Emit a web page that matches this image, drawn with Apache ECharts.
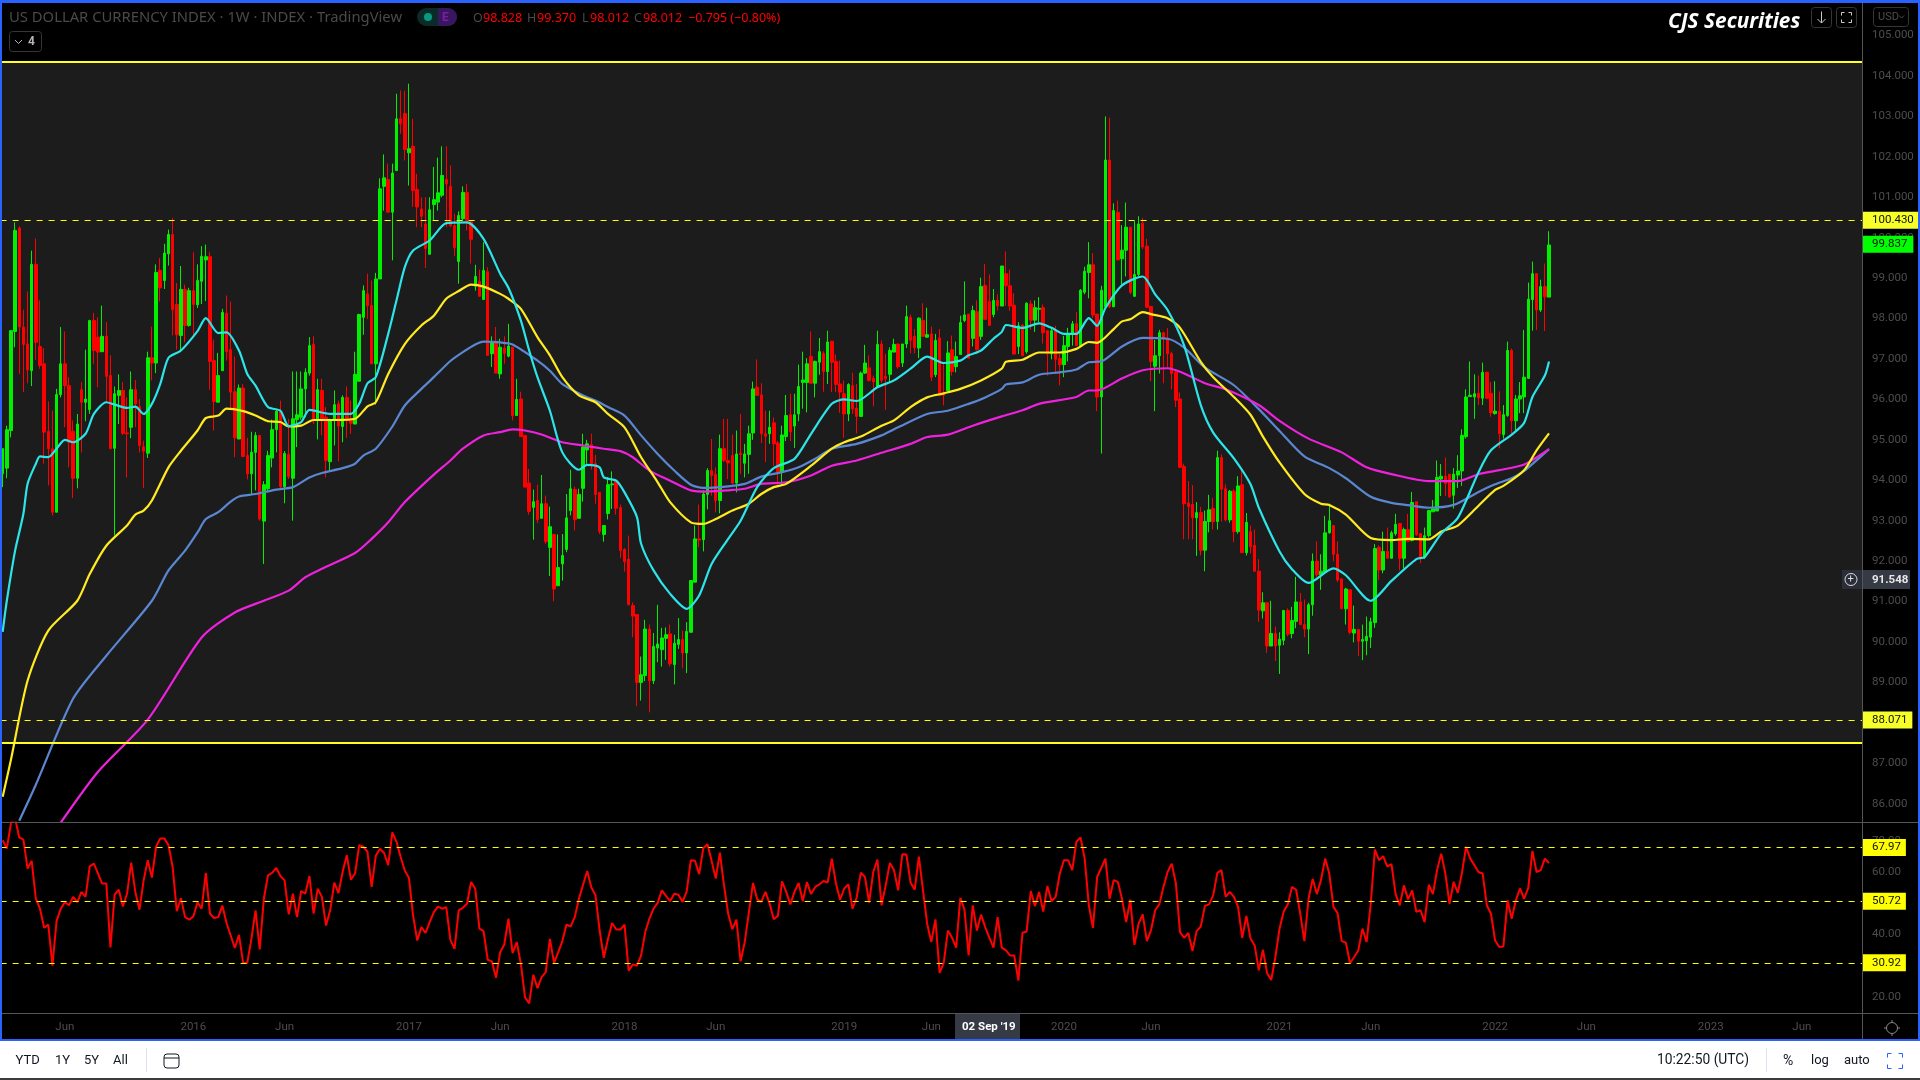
<!DOCTYPE html>
<html><head><meta charset="utf-8"><style>html,body{margin:0;padding:0;background:#000}#c{width:1920px;height:1080px}</style>
<script src="https://cdn.jsdelivr.net/npm/echarts@6/dist/echarts.min.js"></script></head><body><div id="c"></div>
<script>
// OHLC as [open, close, low, high]
const candles2015=[[94.16,94.78,93.83,94.78],[94.30,95.25,94.05,95.35],[95.23,97.70,95.06,97.72],[97.68,100.18,97.29,100.38],[100.24,97.79,96.63,100.28],[97.79,97.36,96.18,98.22],[97.37,96.73,96.40,98.67],[96.71,99.34,96.33,99.68],[99.34,97.41,96.98,99.98],[97.31,96.84,96.76,98.45],[96.88,95.19,94.41,97.27],[95.21,94.78,93.87,95.95],[94.78,93.21,93.13,95.72],[93.21,96.12,93.21,96.26],[96.12,96.88,96.05,97.79],[96.88,96.34,95.31,97.68],[96.34,94.94,94.32,96.55],[95.21,94.05,93.56,95.48],[94.05,95.39,93.80,95.64],[96.24,95.93,94.69,96.43],[95.93,96.01,95.46,97.23],[95.75,97.95,95.64,97.97],[97.95,97.21,96.88,98.14],[97.54,97.17,96.30,98.03],[97.18,97.56,97.17,98.32],[97.56,96.57,95.93,97.91],[96.59,94.78,94.78,97.09],[94.79,96.14,92.63,96.32],[96.10,96.22,95.39,96.62],[96.22,95.16,95.12,96.43],[95.17,95.15,94.07,96.05],[95.31,96.24,95.04,96.69],[96.24,95.89,95.31,96.48],[95.82,94.86,94.69,96.01],[94.83,94.72,93.81,94.98],[94.67,97.03,94.55,97.18],[97.03,96.90,96.47,97.80],[96.90,99.14,96.65,99.34],[99.19,98.76,98.42,99.50],[98.94,99.62,98.73,99.85],[99.60,100.08,99.31,100.20],[100.08,98.22,97.58,100.49],[98.35,97.60,97.23,98.88],[97.58,98.72,97.17,99.30],[98.72,97.83,97.41,98.84],[97.83,98.69,97.80,98.76],[98.69,98.35,97.58,99.64],[98.34,98.94,98.26,99.34],[98.92,99.54,98.36,99.79],[99.45,99.53,98.43,99.83],[99.53,96.94,96.24,99.64],[96.96,95.95,95.23,97.48],[95.93,96.59,95.93,97.15],[96.71,98.15,96.71,98.24],[98.13,97.18,96.96,98.57],[97.23,96.18,95.77,98.42],[96.19,95.05,94.57,97.06],[95.02,96.28,95.02,96.37],[96.28,94.59,94.57,96.38],[94.61,94.16,94.02,95.05],[94.16,94.69,93.66,95.20],[94.69,95.11,93.75,95.19],[95.11,93.04,93.00,95.11],[92.99,93.89,91.93,93.98],[93.79,94.61,93.70,94.73],[94.55,95.25,94.32,95.50],[95.25,95.71,94.69,95.77],[95.70,93.84,93.79,95.97],[93.84,94.66,93.43,94.72],[94.64,94.09,94.03,95.52],[94.05,95.52,93.00,96.69],[95.50,95.62,94.82,96.69],[95.56,96.26,95.50,96.69],[96.26,96.67,95.56,96.77],[96.65,97.33,96.59,97.54],[97.36,95.48,95.39,97.56],[95.48,96.24,95.01,96.51],[96.22,95.48,95.11,96.51],[95.56,94.49,94.07,95.81],[94.46,95.48,94.24,95.52],[95.48,95.87,94.86,96.22],[95.89,95.34,94.47,95.97],[95.33,96.05,94.94,96.10],[96.05,95.48,95.05,96.32],[95.49,95.41,95.15,95.97],[95.39,96.62,95.39,97.18],[96.45,98.10,96.44,98.12],[98.03,98.69,97.60,98.82],[98.61,98.32,97.99,99.11],[98.32,96.88,96.88,98.94],[96.88,98.98,95.87,99.13],[98.98,101.21,98.98,101.47],[101.27,101.48,100.67,102.06],[101.44,100.63,100.63,101.83],[100.63,101.60,99.44,101.83],[101.66,102.94,101.66,103.56],[102.94,102.82,102.57,103.64],[103.07,102.18,101.91,103.63],[102.10,102.20,101.29,103.81],[102.26,101.17,100.76,102.94],[101.19,100.76,100.26,101.58],[100.71,100.53,100.26,101.00],[100.34,99.73,99.25,101.00],[99.59,100.69,99.59,101.00],[100.82,100.94,100.43,101.75],[100.88,101.11,100.67,101.98],[101.05,101.54,101.00,102.26],[101.44,101.33,100.26,102.26],[101.27,100.30,100.26,101.79],[100.30,99.75,99.54,100.59],[99.41,100.55,98.86,100.65],[100.47,101.12,100.43,101.27],[101.12,100.43,100.18,101.33],[100.39,99.96,99.36,100.43],[98.80,99.04,98.69,99.33],[98.92,98.55,98.55,99.21],[98.47,99.19,98.47,99.89],[99.16,97.09,97.09,99.27],[97.13,97.43,96.80,97.56],[97.44,96.65,96.65,97.79]];
const candles2017=[[96.63,97.29,96.51,97.50],[97.27,97.14,96.88,97.56],[97.07,97.32,97.04,97.87],[97.29,95.60,95.48,97.29],[95.60,96.00,95.60,96.51],[96.01,95.08,95.08,96.19],[95.11,93.83,93.83,95.11],[93.93,93.23,93.15,94.28],[93.33,93.47,92.53,93.77],[93.50,93.03,92.94,93.89],[93.06,93.42,93.06,94.13],[93.42,92.48,92.43,93.62],[92.34,92.85,91.63,93.35],[92.66,91.31,91.01,92.67],[91.39,91.84,91.39,92.66],[91.93,92.14,91.52,92.67],[92.29,93.07,92.22,93.66],[93.25,93.79,93.13,94.26],[93.77,93.03,92.76,93.84],[93.06,93.65,93.06,93.79],[93.80,94.82,93.47,95.15],[94.75,94.90,94.41,95.00],[94.88,94.41,94.26,95.15],[94.41,93.65,93.42,94.63],[93.70,92.73,92.67,93.70],[92.66,92.88,92.48,92.88],[93.18,93.89,93.03,94.08],[93.89,93.91,93.29,94.22],[93.97,93.31,93.15,93.97],[93.32,92.26,92.07,93.40],[92.29,91.99,91.74,92.32],[92.05,90.92,90.92,92.63],[90.90,90.64,90.12,90.98],[90.68,89.00,88.41,90.69],[89.00,89.19,88.55,89.64],[89.17,90.32,89.03,90.55],[90.32,89.04,88.26,90.43],[89.04,89.89,88.96,90.22],[89.85,89.95,89.50,90.92],[89.81,90.10,89.39,90.35],[90.09,90.18,89.56,90.36],[90.20,89.46,89.39,90.43],[89.44,89.97,88.95,90.18],[89.94,90.06,89.83,90.59],[90.06,89.73,89.35,90.28],[89.73,90.26,89.23,90.49],[90.24,91.52,90.24,91.52],[91.48,92.55,91.48,92.88],[92.55,92.52,92.34,93.40],[92.53,93.66,92.24,93.75],[93.65,94.24,93.28,94.30],[94.24,94.12,93.62,95.02],[94.14,93.50,93.21,94.32],[93.50,94.78,93.18,95.13],[94.78,94.49,94.45,95.52],[94.49,94.43,94.03,95.52],[94.61,93.93,93.91,95.13],[93.93,94.65,93.70,95.23],[94.67,94.64,94.16,95.64],[94.42,94.65,94.07,94.90],[94.64,95.15,94.16,95.35],[95.17,96.26,95.00,96.44],[96.30,96.10,96.10,96.99],[96.11,95.15,94.92,96.40],[95.15,95.09,94.45,95.72],[95.15,95.31,94.90,95.72],[95.42,94.90,94.36,95.56],[94.92,94.20,93.83,94.97],[94.20,95.12,93.87,95.35],[95.08,95.60,94.97,96.11],[95.62,95.20,94.97,96.14],[95.34,95.62,94.80,96.14],[95.64,96.32,95.46,96.86],[96.42,96.48,95.77,97.18],[96.42,96.88,95.68,97.02],[97.06,96.40,96.40,97.68],[96.40,96.94,96.05,96.96],[96.92,97.18,96.61,97.52],[97.14,96.69,96.19,97.19],[96.69,97.42,96.38,97.70],[97.44,96.92,96.18,97.44],[96.94,96.37,96.18,97.11],[96.38,96.18,95.67,96.96],[96.14,95.64,95.05,96.47],[95.64,96.37,95.46,96.40],[96.34,95.77,95.64,96.66],[95.78,95.58,95.16,96.38],[95.58,96.65,95.58,96.69],[96.65,96.90,96.63,97.35],[96.78,96.47,96.44,97.09],[96.52,96.43,95.83,96.59],[96.32,97.36,96.30,97.70],[97.37,96.47,96.40,97.46],[96.57,96.52,95.74,97.13],[96.62,97.21,96.43,97.29],[97.17,97.36,97.17,97.50],[97.37,96.81,96.76,97.37],[96.90,97.37,96.80,97.37],[97.37,98.05,97.27,98.32],[98.03,97.46,97.14,98.10],[97.56,97.28,97.14,97.74],[97.27,98.01,97.02,98.03],[97.95,97.56,97.54,98.38],[97.54,97.60,97.52,98.27],[97.62,96.55,96.45,97.80],[96.61,97.46,96.55,97.62],[97.52,96.10,96.10,97.74],[96.14,96.10,95.85,96.88],[96.22,97.15,96.22,97.44],[97.23,96.69,96.59,97.58],[96.81,97.06,96.67,97.43],[97.11,97.90,97.11,98.07],[97.95,98.09,97.91,98.92],[98.11,97.02,97.02,98.11],[97.51,98.20,97.31,98.32],[98.17,97.23,97.21,98.45],[97.56,98.79,97.47,99.01],[98.82,97.98,97.98,99.35],[98.42,97.83,97.83,99.09],[98.10,98.45,98.03,98.73],[98.45,98.31,98.2,98.6]];
const candles2019=[[98.31,99.30,98.31,99.30],[99.11,98.81,98.31,99.66],[98.81,98.31,98.19,99.21],[98.33,97.12,97.12,98.63],[97.31,97.82,97.12,97.91],[97.84,97.08,97.08,97.86],[97.18,98.38,97.13,98.40],[98.36,97.96,97.72,98.45],[97.96,98.27,97.67,98.45],[98.23,98.25,97.91,98.53],[98.27,97.65,97.38,98.35],[97.70,97.13,96.59,97.70],[97.13,97.70,96.99,97.77],[97.72,96.99,96.64,97.82],[97.01,96.86,96.35,97.13],[96.86,97.33,96.55,97.57],[97.31,97.62,96.94,97.77],[97.62,97.87,97.33,97.94],[97.87,97.33,97.33,98.16],[97.33,98.70,97.33,98.73],[98.65,99.17,98.60,99.28],[99.14,99.33,98.50,99.89],[99.33,98.09,98.01,99.62],[98.11,96.06,95.71,98.11],[96.06,98.70,94.66,98.81],[98.29,101.92,98.29,103.0],[101.92,98.29,98.26,102.97],[98.29,100.67,98.29,100.85],[100.63,99.45,99.45,100.92],[99.48,99.69,98.84,100.31],[99.69,100.26,99.04,100.87],[100.26,98.65,98.60,100.26],[98.55,99.09,98.55,100.41],[99.09,100.34,99.04,100.53],[100.36,99.77,99.72,100.49],[99.79,98.28,98.26,99.97],[98.30,96.94,96.45,98.30],[96.82,97.08,95.71,97.47],[97.08,97.65,96.64,97.72],[97.65,97.50,96.40,97.67],[97.52,97.13,96.79,97.77],[97.13,96.64,96.25,97.18],[96.67,95.98,95.81,96.74],[96.01,94.32,94.32,96.17],[94.34,93.42,92.54,94.41],[93.44,93.35,92.54,93.98],[93.40,93.07,92.54,93.88],[93.07,93.20,92.13,93.46],[93.20,92.27,92.14,93.34],[92.27,92.98,91.75,93.25],[92.98,93.27,92.71,93.64],[93.30,92.98,92.78,93.56],[92.98,94.56,92.78,94.73],[94.56,93.78,92.98,94.64],[93.79,93.02,92.98,93.90],[93.02,93.73,92.95,93.76],[93.73,92.73,92.47,93.78],[92.73,93.86,92.68,94.10],[93.89,92.21,92.21,94.30],[92.21,92.96,92.14,93.19],[92.73,92.36,92.19,92.88],[92.39,91.75,91.75,92.78],[91.75,90.79,90.50,92.05],[90.77,90.97,90.58,91.23],[90.97,89.90,89.73,90.97],[89.90,90.21,89.90,91.02],[90.21,89.90,89.53,90.38],[89.92,90.07,89.21,90.24],[90.04,90.78,89.92,90.79],[90.78,90.19,90.14,90.83],[90.21,90.53,90.09,90.87],[90.51,90.99,90.34,91.61],[90.99,90.43,90.43,91.21],[90.43,90.32,90.12,91.05],[90.32,90.92,89.70,90.97],[90.92,92.00,90.65,92.19],[92.00,91.66,91.61,92.49],[91.66,91.75,91.29,92.17],[91.73,92.70,91.70,93.12],[92.70,93.00,92.68,93.42],[92.88,92.17,92.00,92.88],[92.17,91.53,91.48,92.49],[91.56,90.82,90.82,91.56],[90.82,91.31,90.43,91.34],[91.29,90.24,90.19,91.29],[90.22,90.31,89.99,90.90],[90.31,90.02,89.65,90.31],[90.02,90.06,89.55,90.43],[90.03,90.14,89.67,90.63],[90.12,90.50,89.85,90.60],[90.48,92.31,90.35,92.42],[92.34,91.78,91.53,92.39],[91.78,92.24,91.70,92.73],[92.24,92.07,92.07,92.83],[92.07,92.70,92.07,92.75],[92.68,92.91,92.63,93.17],[92.93,92.07,91.77,92.93],[92.07,92.78,91.82,92.83],[92.78,92.49,92.49,93.17],[92.51,93.45,92.49,93.71],[93.47,92.65,92.63,93.47],[92.68,92.07,91.95,92.68],[92.09,92.63,92.05,92.83],[92.63,93.25,92.58,93.27],[93.22,93.29,93.22,93.51],[93.24,94.07,93.24,94.49],[94.03,94.10,93.61,94.40],[94.10,93.92,93.61,94.56],[94.15,93.59,93.56,94.15],[93.63,94.15,93.30,94.30],[94.13,94.23,93.81,94.62],[94.23,95.11,93.86,95.26],[95.08,96.06,95.03,96.25],[96.07,96.10,96.06,96.94],[96.06,96.14,95.52,96.62],[96.15,96.04,95.86,96.59],[96.03,96.67,95.86,96.91],[96.67,96.03,96.01,96.69],[96.15,95.67,95.57,96.43],[95.65,95.71,95.62,96.45],[95.71,95.15,94.79,96.20],[95.13,95.62,95.03,95.86],[95.60,97.21,95.57,97.43],[97.21,95.47,95.16,97.26],[95.47,96.01,95.22,96.11],[96.01,96.09,95.66,96.43],[96.06,96.55,95.66,97.72],[96.52,98.48,96.52,98.89],[98.47,99.11,97.70,99.41],[99.11,98.21,97.72,99.11],[98.21,98.79,98.16,98.96],[98.79,98.54,97.69,99.36],[98.53,99.82,98.53,100.16]];
const candleStarts=[0,120,241];
// moving averages: [week number, price]
const maCyan=[[0,90.25],[1,91.02],[3,92.26],[5,93.17],[6,93.91],[8,94.41],[9,94.59],[11,94.57],[13,94.78],[15,95.0],[17,94.94],[20,95.15],[22,95.64],[25,95.93],[27,95.87],[30,95.79],[32,95.82],[34,95.64],[36,95.89],[38,96.38],[40,97.03],[43,97.21],[47,97.69],[49,98.01],[52,97.64],[54,97.66],[57,97.21],[59,96.63],[61,96.34],[64,95.81],[67,95.72],[69,95.34],[72,95.44],[74,95.74],[79,95.64],[84,95.64],[86,95.89],[88,96.40],[90,96.55],[93,97.62],[95,98.45],[97,99.27],[99,99.68],[103,99.93],[107,100.36],[112,100.38],[116,99.97],[120,99.11],[122,98.76],[125,97.95],[127,97.21],[129,96.55],[132,95.72],[135,94.69],[139,94.26],[141,94.38],[144,94.32],[145,94.07],[148,93.99],[150,93.70],[153,93.09],[154,92.43],[157,91.77],[161,91.19],[165,90.82],[168,91.15],[171,91.93],[175,92.55],[178,93.0],[182,93.83],[186,94.30],[191,94.53],[195,95.15],[200,95.89],[203,96.0],[206,95.96],[211,96.30],[215,96.47],[219,96.76],[223,97.06],[227,96.90],[231,96.96],[233,97.09],[236,97.21],[239,97.50],[241,97.67],[242,97.84],[246,97.77],[250,97.88],[253,97.77],[256,97.62],[259,97.62],[262,98.01],[264,97.82],[266,98.26],[270,98.82],[275,99.04],[278,98.60],[281,98.21],[285,97.33],[289,95.86],[292,95.18],[297,94.54],[301,93.90],[303,93.32],[308,92.24],[311,91.80],[315,91.46],[321,91.82],[324,91.65],[330,91.02],[335,91.51],[341,92.05],[343,92.10],[347,92.68],[351,93.07],[356,94.20],[359,94.74],[364,95.13],[367,95.42],[369,96.06],[372,96.59],[373,96.94]];
const maYellow=[[0,86.17],[2,87.09],[6,89.04],[11,90.28],[18,91.02],[21,91.68],[25,92.38],[30,92.88],[32,93.15],[34,93.25],[36,93.50],[40,94.32],[43,94.73],[47,95.23],[49,95.54],[52,95.60],[54,95.77],[58,95.71],[61,95.60],[64,95.46],[67,95.44],[69,95.33],[72,95.35],[75,95.49],[80,95.49],[85,95.52],[88,95.83],[90,95.93],[93,96.63],[97,97.37],[101,97.83],[104,98.07],[107,98.49],[110,98.68],[113,98.84],[116,98.79],[120,98.61],[122,98.49],[125,98.24],[129,97.54],[132,97.09],[135,96.55],[139,96.10],[143,95.93],[146,95.64],[150,95.31],[154,94.57],[158,93.95],[161,93.46],[166,92.96],[169,92.92],[172,93.04],[176,93.25],[180,93.42],[183,93.66],[186,93.83],[189,93.91],[195,94.36],[200,94.78],[203,94.94],[207,95.08],[212,95.35],[215,95.48],[219,95.81],[223,96.05],[227,96.15],[231,96.26],[236,96.47],[241,96.76],[242,96.93],[246,96.98],[250,97.16],[255,97.16],[259,97.25],[262,97.42],[264,97.40],[268,97.74],[270,97.93],[272,97.98],[275,98.16],[277,98.11],[281,98.01],[284,97.77],[289,96.93],[292,96.55],[297,96.06],[301,95.62],[304,95.08],[308,94.44],[314,93.66],[318,93.42],[320,93.39],[324,93.15],[330,92.57],[335,92.52],[339,92.55],[344,92.54],[347,92.73],[351,92.88],[356,93.37],[360,93.76],[362,93.86],[367,94.25],[370,94.74],[373,95.16]];
const maBlue=[[4,85.58],[8,86.47],[17,88.6],[25,89.66],[36,91.02],[40,91.77],[44,92.26],[47,92.71],[49,93.04],[52,93.21],[55,93.47],[57,93.60],[61,93.66],[66,93.77],[70,93.83],[74,94.07],[77,94.18],[82,94.30],[85,94.41],[87,94.61],[90,94.78],[94,95.33],[97,95.85],[101,96.26],[104,96.55],[108,96.95],[111,97.17],[114,97.36],[116,97.43],[120,97.41],[123,97.36],[129,96.96],[132,96.71],[135,96.38],[140,96.10],[143,95.97],[146,95.81],[150,95.60],[154,95.11],[158,94.65],[162,94.24],[166,93.89],[169,93.81],[175,93.85],[179,93.91],[183,94.09],[188,94.20],[192,94.32],[196,94.53],[200,94.78],[206,94.90],[212,95.11],[216,95.31],[223,95.64],[228,95.72],[233,95.89],[237,96.05],[241,96.26],[242,96.37],[246,96.42],[250,96.61],[255,96.67],[259,96.74],[262,96.92],[265,96.94],[270,97.31],[275,97.52],[281,97.50],[285,97.28],[290,96.79],[297,96.35],[303,95.76],[308,95.22],[314,94.59],[320,94.30],[324,94.05],[330,93.59],[335,93.44],[340,93.37],[344,93.32],[350,93.39],[356,93.71],[360,93.90],[364,94.05],[367,94.23],[373,94.77]];
const maMagenta=[[14,85.53],[23,86.79],[35,88.08],[48,90.11],[56,90.73],[63,91.02],[69,91.27],[73,91.60],[77,91.81],[85,92.20],[89,92.55],[93,92.96],[97,93.46],[104,94.14],[108,94.49],[111,94.78],[116,95.11],[120,95.19],[123,95.26],[126,95.23],[130,95.13],[135,94.94],[140,94.86],[145,94.78],[149,94.72],[152,94.57],[156,94.24],[161,93.99],[166,93.75],[170,93.72],[175,93.75],[179,93.79],[183,93.91],[189,93.95],[195,94.12],[200,94.36],[206,94.49],[212,94.68],[219,94.90],[223,95.07],[228,95.13],[234,95.35],[241,95.58],[246,95.73],[250,95.89],[259,96.06],[262,96.22],[264,96.22],[270,96.52],[275,96.72],[281,96.77],[285,96.64],[290,96.40],[295,96.25],[303,95.86],[308,95.47],[315,95.03],[323,94.69],[329,94.32],[335,94.15],[344,93.98],[351,93.98],[356,94.15],[361,94.25],[367,94.39],[373,94.77]];
// RSI, week by week
const rsi2015=[70.3,67.6,75.9,77.3,71.2,70.5,61.2,63.7,51.5,48.3,42.2,43.2,30.0,44.3,48.3,50.4,49.4,52.1,50.4,53.7,52.1,61.9,62.8,59.6,56.4,56.4,35.9,52.8,54.4,49.0,53.1,63.1,53.7,48.0,57.4,63.9,58.3,68.2,70.9,70.9,68.7,61.7,47.5,51.7,45.6,44.8,45.8,50.4,48.3,59.8,46.7,45.3,45.6,49.3,43.7,39.7,35.7,39.9,30.9,30.9,38.6,47.8,35.2,51.5,59.0,59.8,61.4,58.8,57.4,46.5,53.1,45.6,54.0,53.1,58.8,46.7,54.7,52.1,42.9,47.8,56.7,53.3,60.1,65.5,57.6,59.6,68.7,68.2,66.6,55.3,65.3,67.6,66.2,62.3,72.8,69.8,64.9,60.6,58.2,46.1,38.1,42.4,40.5,44.0,47.2,49.0,48.3,48.8,38.3,35.4,47.8,48.6,49.9,56.9,54.7,41.9,41.1,31.9,31.4,26.1,34.3,36.8,45.1,34.0,37.6,30.6,19.8,17.9,27.1,22.8,26.3,27.9,38.6,30.9,34.3,37.9,43.2,42.6,45.6,51.5,56.0,60.4,55.1,52.6,41.3,32.5,38.6,43.7,41.6,41.6,43.2,28.4,30.4,30.0];
const rsi2018=[33.3,40.8,45.1,48.3,50.2,54.2,52.4,50.7,53.1,52.8,50.5,53.9,63.9,63.7,59.4,67.7,69.0,63.7,58.0,66.3,55.8,46.7,41.7,44.8,31.4,37.6,47.2,56.6,51.3,50.5,53.7,49.9,44.9,46.0,57.1,53.7,49.7,53.7,56.6,50.7,56.9,53.0,55.3,56.1,57.2,56.7,64.4,56.4,51.2,54.8,56.1,48.3,51.9,59.9,58.5,50.3,60.1,64.1,49.4,55.8,63.0,60.7,54.2,65.8,65.7,56.7,54.4,65.0,54.2,43.5,37.6,44.9,27.7,30.9,41.3,39.0,35.8,51.8,48.0,33.3,49.4,41.3,46.4,42.4,39.0,35.8,45.6,35.8,34.9,33.3,33.3,25.2,40.6,41.0,54.0,49.1,53.7,47.4,55.6,50.7,52.1,59.6,63.9,63.9,60.7,69.8,71.2,64.4,49.4,42.1,58.5];
const rsi2020=[64.4,51.5,57.5,56.9,51.5,44.0,51.2,36.7,43.5,46.5,37.9,41.4,47.8,49.7,55.3,60.1,62.8,56.4,40.8,38.9,40.5,34.7,41.1,42.6,49.2,49.7,52.6,59.8,60.7,52.1,53.7,52.1,48.9,38.9,46.0,38.7,36.5,28.5,35.1,27.6,25.4,32.8,41.9,47.4,49.7,55.3,54.4,46.7,37.9,51.5,57.9,53.0,57.5,64.4,59.6,48.9,46.9,37.9,37.4,30.8,32.8,34.9,41.9,37.6,49.9,67.3,63.9,65.2,61.8,62.6,53.0,49.4,55.8,51.3,54.2,47.3,47.8,44.0,56.0,53.0,60.7,66.0,59.6,49.9,56.9,53.4,59.8,68.2,64.4,62.3,60.1,59.6,49.4,46.7,38.1,36.0,36.2,51.0,45.1,51.0,54.8,51.5,55.0,66.9,60.1,60.7,64.4,63.0];
const rsiStarts=[0,154,266];
const priceTicks=[86,87,88,89,90,91,92,93,94,95,96,97,98,99,100,101,102,103,104,105];
const rsiTicks=[20,40,60,70];
const timeTickWeeks=[15,46,68,98,120,150,172,203,224,256,277,308,330,360,382,412,434];
const timeTickLabels=['Jun','2016','Jun','2017','Jun','2018','Jun','2019','Jun','2020','Jun','2021','Jun','2022','Jun','2023','Jun'];
const priceLevels=[100.43,88.071];
const priceBand=[87.51,104.34];
const lastPrice=99.837;
const rsiLevels=[67.97,50.72,30.92];
const title='US DOLLAR CURRENCY INDEX · 1W · INDEX · TradingView';
const weekCount=449;

const categories=[];for(let i=0;i<weekCount;i++){const d=new Date(Date.UTC(2015,1,16+7*i));categories.push(d.toISOString().slice(0,10));}
const candleData=new Array(374).fill('-');
[candles2015,candles2017,candles2019].forEach((a,k)=>a.forEach((v,j)=>{candleData[candleStarts[k]+j]=v;}));
const rsiData=[];
[rsi2015,rsi2018,rsi2020].forEach((a,k)=>a.forEach((v,j)=>{rsiData.push([rsiStarts[k]+j,v]);}));

const AX='#4d4d4d',F='Roboto';
const GREEN='#00f000',RED='#ff0000',YEL='#ffff26';
const tick=new Map(timeTickWeeks.map((w,i)=>[w,timeTickLabels[i]]));
const tag=(bg,dec)=>({show:true,position:'end',distance:0,color:'#111',backgroundColor:bg,fontFamily:F,fontSize:11.5,padding:[3,5,2,10],formatter:p=>p.value.toFixed(dec)});
const ma=(name,data,color)=>({name,type:'line',xAxisIndex:0,yAxisIndex:0,data,showSymbol:false,symbol:'none',smooth:0.25,lineStyle:{color,width:2.2},z:4,silent:true});
const t=(x,y,text,o={})=>({type:'text',x,y,z:200,silent:true,style:Object.assign({text,fill:'#131722',font:'13px '+F,textVerticalAlign:'middle'},o)});
const r=(x,y,w,h,fill,stroke)=>({type:'rect',z:150,silent:true,shape:{x,y,width:w,height:h,r:stroke?3:0},style:{fill:fill||'transparent',stroke:stroke||null,lineWidth:1}});
const ln=(x1,y1,x2,y2,c,w)=>({type:'line',z:160,silent:true,shape:{x1,y1,x2,y2},style:{stroke:c,lineWidth:w||1}});
const corners=(x,y,w,h,c,s)=>[ln(x,y,x+s,y,c),ln(x,y,x,y+s,c),ln(x+w,y,x+w-s,y,c),ln(x+w,y,x+w,y+s,c),ln(x,y+h,x+s,y+h,c),ln(x,y+h,x,y+h-s,c),ln(x+w,y+h,x+w-s,y+h,c),ln(x+w,y+h,x+w,y+h-s,c)];

const graphics=[
 r(0,1041,1920,37,'#ffffff'),r(0,1078,1920,2,'#3c3c3c'),
 r(0,0,1920,3,'#2962ff'),r(0,0,2,1041,'#2962ff'),r(1918,0,2,1041,'#2962ff'),r(0,1039,1920,2,'#2962ff'),
 ln(2,822.5,1918,822.5,'#555'),ln(2,1013.5,1918,1013.5,'#555'),ln(1862.5,3,1862.5,1039,'#555'),
 t(9,18,title,{fill:'#4a4a4a',font:'14.8px "Noto Sans"'}),
 {type:'rect',z:150,silent:true,shape:{x:417,y:8,width:40,height:18,r:9},style:{fill:'#0b2b28'}},
 {type:'rect',z:151,silent:true,shape:{x:438,y:8,width:19,height:18,r:[0,9,9,0]},style:{fill:'#3a1660'}},
 {type:'circle',z:152,silent:true,shape:{cx:428,cy:17,r:4},style:{fill:'#089981'}},
 t(442,18,'E',{fill:'#7b1fa2',font:'bold 12px '+F}),
 t(473,18,'O',{fill:'#4a4a4a',font:'12.5px "Noto Sans"'}),t(483,18,'98.828',{fill:RED,font:'12.5px "Noto Sans"'}),
 t(527,18,'H',{fill:'#4a4a4a',font:'12.5px "Noto Sans"'}),t(537,18,'99.370',{fill:RED,font:'12.5px "Noto Sans"'}),
 t(582,18,'L',{fill:'#4a4a4a',font:'12.5px "Noto Sans"'}),t(590,18,'98.012',{fill:RED,font:'12.5px "Noto Sans"'}),
 t(634,18,'C',{fill:'#4a4a4a',font:'12.5px "Noto Sans"'}),t(643,18,'98.012',{fill:RED,font:'12.5px "Noto Sans"'}),
 t(688,18,'−0.795 (−0.80%)',{fill:RED,font:'12.5px "Noto Sans"'}),
 r(9.5,31.5,32,20,null,'#363636'),ln(15,40,18.5,43.5,'#b5b5b5'),ln(18.5,43.5,22,40,'#b5b5b5'),t(28,42,'4',{fill:'#b5b5b5',font:'bold 12px '+F}),
 t(1668,22,'CJS Securities',{fill:'#ffffff',font:'italic bold 20.8px "Open Sans"'}),
 r(1811.5,7.5,20,20,null,'#363636'),ln(1821.5,11.5,1821.5,23,'#ccc'),ln(1817.5,19,1821.5,23,'#ccc'),ln(1825.5,19,1821.5,23,'#ccc'),
 r(1836.5,7.5,20,20,null,'#363636'),...corners(1841.5,12.5,10,10,'#ccc',3),
 r(1873.5,7.5,35,19,null,'#363636'),t(1878,17,'USD',{fill:'#4d4d4d',font:'11px '+F}),ln(1899,15.5,1901.5,18,'#4d4d4d'),ln(1901.5,18,1904,15.5,'#4d4d4d'),
 r(1842,570,20,19,'#2a2e39'),r(1862,570,48,19,'#363a45'),{type:'circle',z:160,silent:true,shape:{cx:1851,cy:579.5,r:6},style:{fill:'transparent',stroke:'#ddd',lineWidth:1}},
 t(1847.5,579.5,'+',{fill:'#ddd',font:'11px '+F}),t(1872,580,'91.548',{fill:'#e8e8e8',font:'bold 11.5px '+F}),
 r(955,1014,65,25,'#363a45'),t(962,1027,"02 Sep '19",{fill:'#ffffff',font:'bold 11.5px '+F}),
 {type:'circle',z:160,silent:true,shape:{cx:1892,cy:1028,r:5.5},style:{fill:'transparent',stroke:'#888',lineWidth:1}},
 ln(1892,1020,1892,1022,'#888'),ln(1892,1034,1892,1036,'#888'),ln(1884,1028,1886,1028,'#888'),ln(1898,1028,1900,1028,'#888'),
 t(15.5,1061,'YTD'),t(55,1061,'1Y'),t(84,1061,'5Y'),t(113,1061,'All'),ln(146.5,1048,146.5,1072,'#e0e3eb'),
 r(164,1054,15,14,null,'#131722'),ln(164,1058,179,1058,'#131722'),
 t(1657,1061,'10:22:50 (UTC)',{font:'13.8px '+F}),ln(1766.5,1048,1766.5,1072,'#e0e3eb'),t(1783,1061,'%',{font:'14px '+F}),t(1811,1061,'log'),t(1844,1061,'auto'),
 ...corners(1887.5,1053.5,15,15,'#2962ff',4)
];

const option={
 animation:false,backgroundColor:'#000',
 grid:[{left:0.6,top:3.6,width:1861.4,height:819.5},{left:0.6,top:822.5,width:1861.4,height:191}],
 xAxis:[
  {type:'category',gridIndex:0,data:categories,show:false,boundaryGap:true},
  {type:'category',gridIndex:1,data:categories,boundaryGap:true,axisLine:{show:false},axisTick:{show:false},splitLine:{show:false},
   axisLabel:{show:true,hideOverlap:false,margin:8,color:AX,fontFamily:F,fontSize:11.5,interval:(i)=>tick.has(i),formatter:(v,i)=>tick.get(i)||''}}
 ],
 yAxis:[
  {type:'value',gridIndex:0,position:'right',min:85.52,max:105.79,splitLine:{show:false},axisLine:{show:false},axisTick:{show:false},
   axisLabel:{customValues:priceTicks,margin:10,color:AX,fontFamily:F,fontSize:11.5,formatter:v=>v.toFixed(3)}},
  {type:'value',gridIndex:1,position:'right',min:14.64,max:76.0,splitLine:{show:false},axisLine:{show:false},axisTick:{show:false},
   axisLabel:{customValues:rsiTicks,margin:10,color:AX,fontFamily:F,fontSize:11.5,formatter:v=>v.toFixed(2)}}
 ],
 series:[
  {type:'candlestick',xAxisIndex:0,yAxisIndex:0,data:candleData,barWidth:3,silent:true,
   itemStyle:{color:GREEN,color0:RED,borderColor:GREEN,borderColor0:RED,borderWidth:1},
   markArea:{silent:true,itemStyle:{color:'#1c1c1c'},data:[[{yAxis:priceBand[0]},{yAxis:priceBand[1]}]]},
   markLine:{silent:true,symbol:'none',animation:false,precision:3,data:[
     {yAxis:priceBand[1],lineStyle:{color:YEL,width:2,type:'solid'},label:{show:false}},
     {yAxis:priceBand[0],lineStyle:{color:YEL,width:2,type:'solid'},label:{show:false}},
     ...priceLevels.map(v=>({yAxis:v,lineStyle:{color:'#ffff00',width:1,type:[6,6]},label:tag('#f6ff29',3)})),
     {yAxis:lastPrice,lineStyle:{color:'transparent',width:0},label:Object.assign(tag('#00ff00',3),{padding:[3,6,2,10]})}
   ]}},
  ma('maBlue',maBlue,'#5a86d2'),ma('maMagenta',maMagenta,'#ee22dd'),ma('maYellow',maYellow,'#ffeb1f'),ma('maCyan',maCyan,'#2ce5ea'),
  {type:'line',xAxisIndex:1,yAxisIndex:1,data:rsiData,showSymbol:false,symbol:'none',silent:true,lineStyle:{color:'#ff0000',width:2},z:4,
   markLine:{silent:true,symbol:'none',animation:false,precision:2,data:rsiLevels.map(v=>({yAxis:v,lineStyle:{color:'#ffff00',width:1,type:[6,6]},label:tag('#ffff00',2)}))}}
 ],
 graphic:{elements:graphics}
};
echarts.init(document.getElementById('c'),null,{renderer:'canvas',width:1920,height:1080}).setOption(option);
</script></body></html>
